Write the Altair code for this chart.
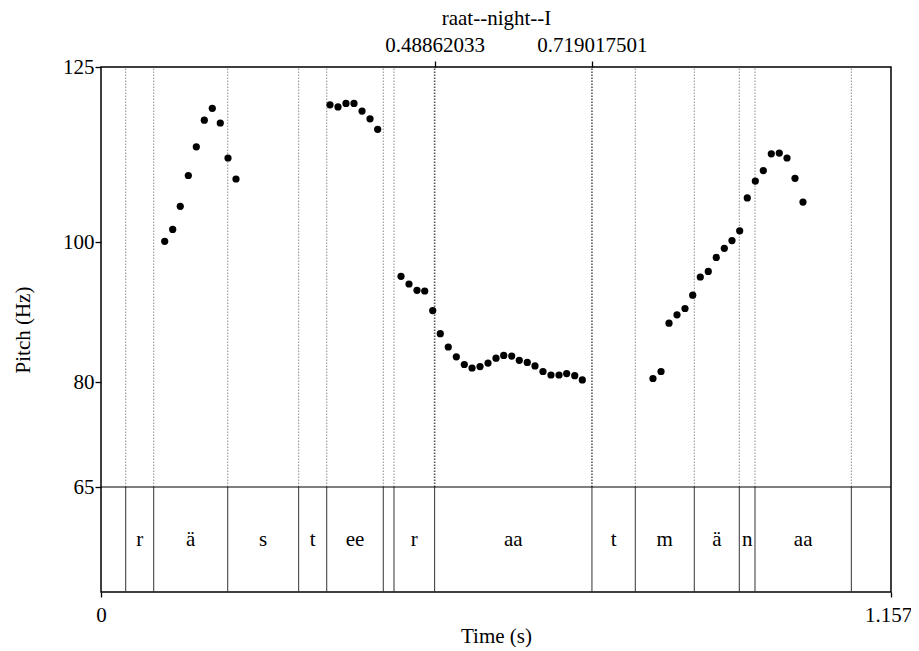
import altair as alt
import pandas as pd

# ---- data ----
pitch_time = [
    0.0933, 0.1050, 0.1161, 0.1279, 0.1396, 0.1513, 0.1630, 0.1747, 0.1860, 0.1977,
    0.3354, 0.3471, 0.3588, 0.3705, 0.3823, 0.3940, 0.4052,
    0.4394, 0.4511, 0.4628, 0.4741, 0.4858, 0.4969, 0.5086, 0.5204, 0.5321, 0.5434,
    0.5551, 0.5668, 0.5785, 0.5898, 0.6015, 0.6126, 0.6243, 0.6356, 0.6473, 0.6590,
    0.6708, 0.6820, 0.6938, 0.7049,
    0.8084, 0.8202, 0.8319, 0.8436, 0.8553, 0.8666, 0.8777, 0.8894, 0.9011, 0.9129,
    0.9241, 0.9354, 0.9465, 0.9583, 0.9700, 0.9817, 0.9934, 1.0047, 1.0164, 1.0281,
]
pitch_hz = [
    100.1, 101.8, 105.1, 109.5, 113.6, 117.4, 119.1, 117.0, 112.0, 109.0,
    119.6, 119.3, 119.8, 119.8, 118.7, 117.6, 116.1,
    95.1, 94.0, 93.1, 93.0, 90.2, 86.9, 85.0, 83.6, 82.5, 82.0,
    82.2, 82.7, 83.4, 83.8, 83.7, 83.1, 82.8, 82.3, 81.5, 81.0,
    81.0, 81.2, 80.9, 80.3,
    80.5, 81.5, 88.4, 89.6, 90.5, 92.4, 95.0, 95.8, 97.8, 99.1,
    100.2, 101.6, 106.3, 108.7, 110.2, 112.6, 112.7, 112.0, 109.1, 105.7,
]

boundaries = [0.0362, 0.0772, 0.1856, 0.2895, 0.3306, 0.4134, 0.4291,
              0.48862033, 0.719017501, 0.7825, 0.8689, 0.9348, 0.9578, 1.0989]
tier_labels = ["", "r", "ä", "s", "t", "ee", "", "r", "aa", "t", "m", "ä", "n", "aa", ""]
selected = [0.48862033, 0.719017501]
selected_title = "raat--night--I"

t_min, t_max = 0.0, 1.157
f_bottom, f_tier, f_top = 50, 65, 125
y_ticks = [65, 80, 100, 125]
x_ticks = [0, 1.157]

FONT = "Liberation Serif"
FS = 21

# ---- tables ----
pts = pd.DataFrame({"t": pitch_time, "f": pitch_hz})
edges = [t_min] + boundaries + [t_max]
intervals = pd.DataFrame({
    "start": edges[:-1],
    "end": edges[1:],
    "label": tier_labels,
})
intervals["mid"] = (intervals["start"] + intervals["end"]) / 2
intervals = intervals[intervals["label"] != ""]
bnd = pd.DataFrame({"t": boundaries})
bnd_plain = bnd[~bnd["t"].isin(selected)]
bnd_sel = pd.DataFrame({"t": selected})

xs = alt.Scale(domain=[t_min, t_max], nice=False, zero=False)
ys = alt.Scale(domain=[f_bottom, f_top], nice=False, zero=False)

# dotted boundary lines in pitch area
dotted = alt.Chart(bnd_plain).mark_rule(color="#8a8a8a", strokeDash=[1.5, 1.5], strokeWidth=1).encode(
    x=alt.X("t:Q", scale=xs, axis=None),
    y=alt.datum(f_tier, scale=ys, axis=None),
    y2=alt.datum(f_top),
)

# selected interval boundaries, with top axis
sel = alt.Chart(bnd_sel).mark_rule(color="#555555", strokeDash=[1.5, 1.5], strokeWidth=1.6).encode(
    x=alt.X("t:Q", scale=xs,
            axis=alt.Axis(orient="top", values=selected, labelExpr="'' + datum.value",
                          title=selected_title, titleY=-43, titleBaseline="alphabetic",
                          titleFontWeight="normal", titleFont=FONT, titleFontSize=FS,
                          labelBaseline="alphabetic", labelPadding=10, tickSize=6,
                          labelFlush=False, labelOverlap=False, grid=False, domain=False)),
    y=alt.datum(f_tier, scale=ys, axis=None),
    y2=alt.datum(f_top),
)

# tier boundaries
tier_lines = alt.Chart(bnd).mark_rule(color="#333333", strokeWidth=1).encode(
    x=alt.X("t:Q", scale=xs, axis=None),
    y=alt.datum(f_bottom, scale=ys, axis=None),
    y2=alt.datum(f_tier),
)

# horizontal line separating tier
hline = alt.Chart(pd.DataFrame({"f": [f_tier]})).mark_rule(color="black", strokeWidth=1).encode(
    y=alt.Y("f:Q", scale=ys, axis=None),
    x=alt.datum(t_min, scale=xs, axis=None),
    x2=alt.datum(t_max),
)

# tier labels
tier_text = alt.Chart(intervals).mark_text(font=FONT, fontSize=FS, color="black", baseline="middle").encode(
    x=alt.X("mid:Q", scale=xs, axis=None),
    y=alt.datum((f_bottom + f_tier) / 2, scale=ys, axis=None),
    text="label:N",
)

# pitch points with the main axes
points = alt.Chart(pts).mark_circle(color="black", opacity=1, size=52).encode(
    x=alt.X("t:Q", scale=xs,
            axis=alt.Axis(orient="bottom", values=x_ticks, labelExpr="'' + datum.value",
                          labelOffset={"expr": "datum.value > 1 ? -3 : 0"},
                          title="Time (s)", titleY=50, titleBaseline="alphabetic",
                          titleFontWeight="normal", titleFont=FONT, titleFontSize=FS,
                          labelPadding=7, tickSize=5, labelFlush=False, labelOverlap=False,
                          grid=False, domain=False)),
    y=alt.Y("f:Q", scale=ys,
            axis=alt.Axis(orient="left", values=y_ticks, title="Pitch (Hz)", titleX=-72,
                          titleBaseline="alphabetic",
                          titleFontWeight="normal", titleFont=FONT, titleFontSize=FS,
                          labelPadding=1, tickSize=6, labelFlush=False, labelOverlap=False,
                          grid=False, domain=False)),
)

chart = alt.layer(dotted, sel, tier_lines, hline, tier_text, points).resolve_axis(
    x="independent", y="independent"
).properties(
    width=790, height=525,
    autosize=alt.AutoSizeParams(type="none"),
    padding={"left": 93, "top": 59, "right": 20, "bottom": 55},
    background="white",
).configure_view(
    stroke="black", strokeWidth=1.5
).configure_axis(
    labelFont=FONT, labelFontSize=FS, labelColor="black",
    tickColor="black", tickWidth=1.3, titleColor="black",
)

chart.save("out.html", embed_options={"renderer": "svg", "actions": False})
